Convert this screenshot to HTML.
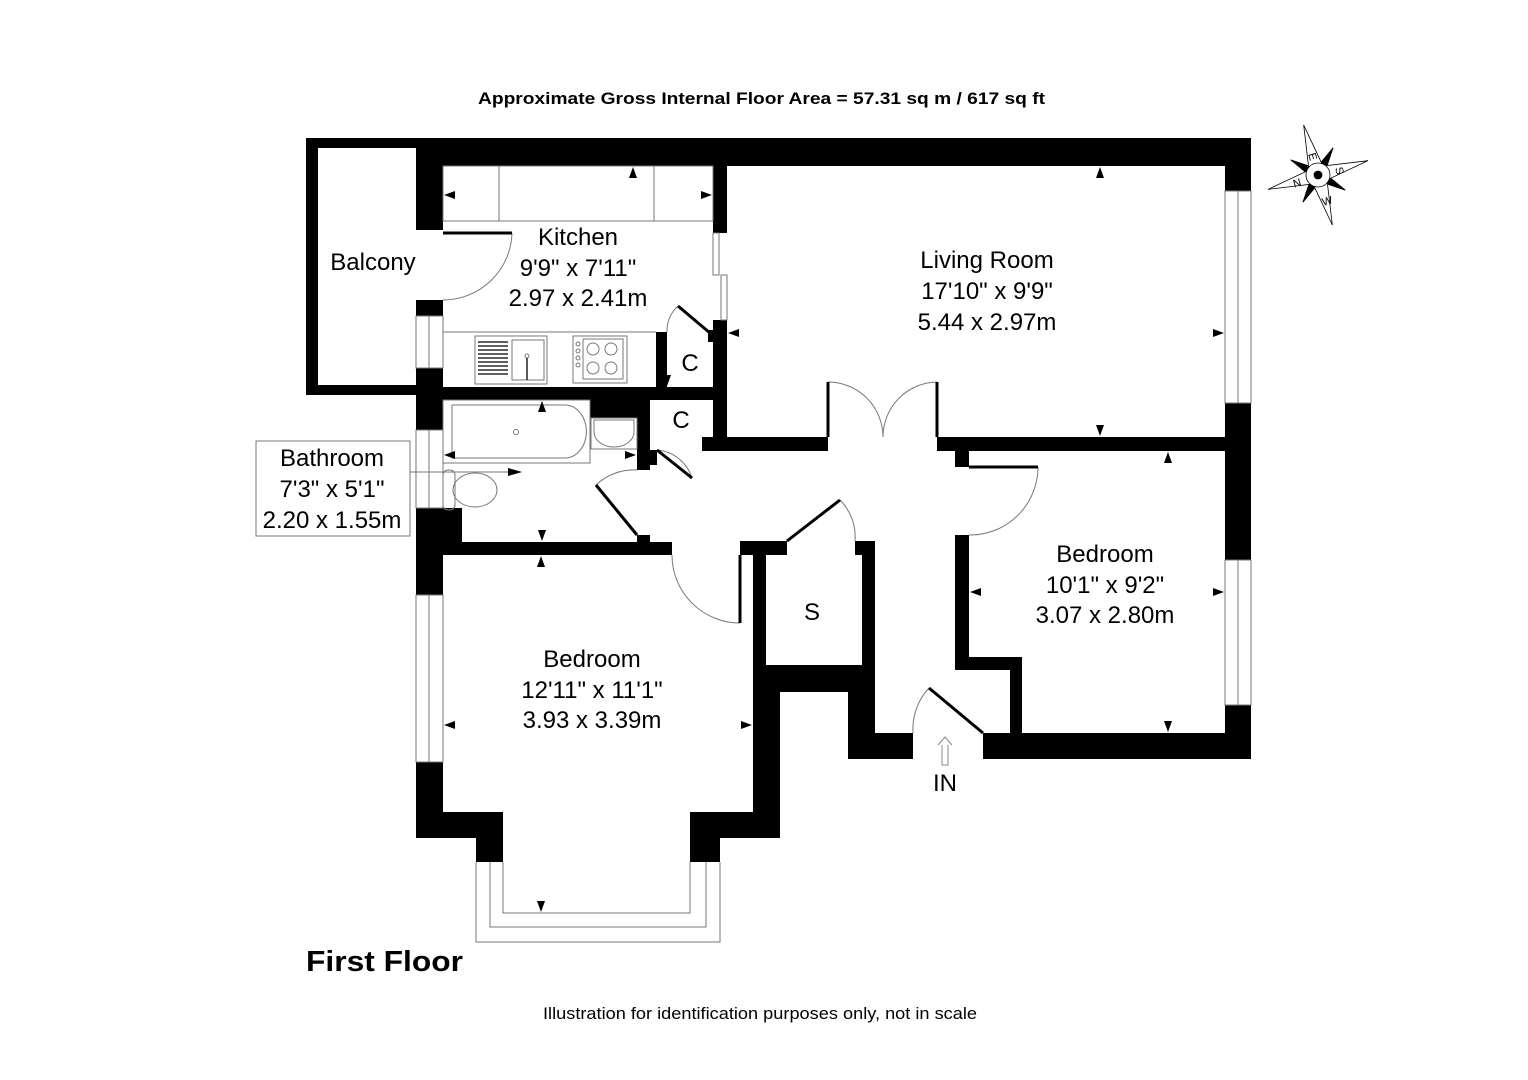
<!DOCTYPE html>
<html><head><meta charset="utf-8"><style>
html,body{margin:0;padding:0;background:#fff;}
svg{display:block;}
text{font-family:"Liberation Sans",Arial,sans-serif;fill:#000;}
</style></head><body>
<svg width="1528" height="1080" viewBox="0 0 1528 1080" xmlns="http://www.w3.org/2000/svg">
<rect width="1528" height="1080" fill="#fff"/>
<text x="478" y="104" font-size="17" font-weight="bold" textLength="567" lengthAdjust="spacingAndGlyphs">Approximate Gross Internal Floor Area =  57.31 sq m / 617 sq ft</text>

<g fill="#000">
<rect x="306" y="138" width="945" height="10"/>
<rect x="306" y="138" width="12" height="257"/>
<rect x="306" y="385" width="137" height="10"/>
<rect x="416" y="138" width="835" height="28"/>
<rect x="416" y="148" width="27" height="82"/>
<rect x="416" y="300" width="27" height="16"/>
<rect x="416" y="368" width="27" height="62"/>
<rect x="416" y="387" width="311" height="13"/>
<rect x="713" y="166" width="14" height="67"/>
<rect x="713" y="320" width="14" height="131"/>
<rect x="708" y="330" width="6" height="12"/>
<rect x="656" y="332" width="11" height="55"/>
<rect x="1225" y="138" width="26" height="53"/>
<rect x="1225" y="403" width="26" height="157"/>
<rect x="1225" y="705" width="26" height="54"/>
<rect x="702" y="437" width="126" height="14"/>
<rect x="937" y="437" width="288" height="14"/>
<rect x="955" y="451" width="14" height="16"/>
<rect x="955" y="535" width="14" height="135"/>
<rect x="955" y="657" width="67" height="13"/>
<rect x="1010" y="657" width="12" height="76"/>
<rect x="983" y="733" width="268" height="26"/>
<rect x="590" y="395" width="50" height="23"/>
<rect x="637" y="400" width="13" height="70"/>
<rect x="650" y="450" width="7" height="15"/>
<rect x="416" y="508" width="46" height="35"/>
<rect x="416" y="508" width="27" height="87"/>
<rect x="416" y="762" width="27" height="76"/>
<rect x="416" y="542" width="221" height="13"/>
<rect x="637" y="535" width="13" height="7"/>
<rect x="637" y="542" width="35" height="13"/>
<rect x="416" y="812" width="87" height="26"/>
<rect x="476" y="812" width="27" height="50"/>
<rect x="690" y="812" width="90" height="26"/>
<rect x="690" y="812" width="30" height="50"/>
<rect x="753" y="541" width="13" height="124"/>
<rect x="740" y="541" width="47" height="14"/>
<rect x="753" y="665" width="27" height="173"/>
<rect x="753" y="665" width="122" height="27"/>
<rect x="855" y="541" width="20" height="14"/>
<rect x="862" y="541" width="13" height="124"/>
<rect x="848" y="665" width="27" height="94"/>
<rect x="848" y="733" width="65" height="26"/>
</g>

<g fill="none" stroke="#777" stroke-width="1">
<rect x="416" y="316" width="27" height="52"/><line x1="429" y1="316" x2="429" y2="368"/>
<rect x="416" y="430" width="27" height="78"/><line x1="429" y1="430" x2="429" y2="508"/>
<rect x="416" y="595" width="27" height="167"/><line x1="429" y1="595" x2="429" y2="762"/>
<rect x="1225" y="191" width="26" height="212"/><line x1="1238" y1="191" x2="1238" y2="403"/>
<rect x="1225" y="560" width="26" height="145"/><line x1="1238" y1="560" x2="1238" y2="705"/>
<rect x="713" y="233" width="6" height="42"/><rect x="721" y="275" width="6" height="45"/>
<polyline points="476,862 476,942 720,942 720,862"/>
<polyline points="490,862 490,927 706,927 706,862"/>
<polyline points="503,862 503,913 690,913 690,862"/>
<rect x="443" y="166" width="270" height="55"/>
<line x1="499" y1="166" x2="499" y2="221"/><line x1="654" y1="166" x2="654" y2="221"/>
<line x1="443" y1="332" x2="656" y2="332"/>
<rect x="475" y="336" width="72" height="48"/>
<rect x="512" y="340" width="32" height="40"/>
<rect x="573" y="336" width="54" height="47"/>
<rect x="583" y="339" width="40" height="40"/>
<circle cx="593" cy="349" r="6"/><circle cx="611" cy="349" r="6"/>
<circle cx="593" cy="368" r="6"/><circle cx="611" cy="368" r="6"/>
<circle cx="578" cy="344" r="2"/><circle cx="578" cy="351" r="2"/><circle cx="578" cy="358" r="2"/><circle cx="578" cy="365" r="2"/>
<circle cx="527" cy="356" r="2"/>
<rect x="443" y="400" width="147" height="63"/>
<path d="M452,405 H565 A21,26 0 0 1 565,458 H452 Z"/>
<circle cx="516" cy="432" r="2.5"/>
<rect x="591" y="418" width="46" height="31"/>
<path d="M594,420 H634 V432 A20,15 0 0 1 594,432 Z"/>
<rect x="443" y="470" width="12" height="40" rx="5"/>
<ellipse cx="475" cy="490" rx="22" ry="17"/>
<rect x="256" y="441" width="154" height="95"/>
<line x1="410" y1="472" x2="510" y2="472"/>
<path d="M512,233 A69,69 0 0 1 443,300"/>
<path d="M678,306 A33,33 0 0 0 667,332"/>
<path d="M657,450 A40,40 0 0 1 692,478"/>
<path d="M596,485 A55,55 0 0 1 637,470"/>
<path d="M672,555 A68,68 0 0 0 740,623"/>
<path d="M828,382 A55,55 0 0 1 883,437"/>
<path d="M937,382 A55,55 0 0 0 883,437"/>
<path d="M1038,467 A68,68 0 0 1 969,535"/>
<path d="M840,500 A52,52 0 0 1 855,541"/>
<path d="M929,688 A60,60 0 0 0 913,733"/>
<path d="M938,745 L945,737 L952,745 M942,745 V765 H948 V745" stroke="#888"/>
</g>
<g stroke="#000" stroke-width="1.3" fill="none">
<line x1="478" y1="342" x2="508" y2="342"/><line x1="478" y1="346" x2="508" y2="346"/><line x1="478" y1="350" x2="508" y2="350"/><line x1="478" y1="354" x2="508" y2="354"/><line x1="478" y1="358" x2="508" y2="358"/><line x1="478" y1="362" x2="508" y2="362"/><line x1="478" y1="366" x2="508" y2="366"/><line x1="478" y1="370" x2="508" y2="370"/><line x1="478" y1="374" x2="508" y2="374"/>
<line x1="527" y1="358" x2="527" y2="380"/>
</g>
<g stroke="#000" stroke-width="3" fill="none">
<line x1="443" y1="233" x2="512" y2="233"/>
<line x1="678" y1="306" x2="710" y2="333"/>
<line x1="657" y1="450" x2="692" y2="478"/>
<line x1="596" y1="485" x2="637" y2="535"/>
<line x1="740" y1="555" x2="740" y2="623"/>
<line x1="828" y1="382" x2="828" y2="437"/>
<line x1="937" y1="382" x2="937" y2="437"/>
<line x1="969" y1="467" x2="1038" y2="467"/>
<line x1="787" y1="541" x2="840" y2="500"/>
<line x1="929" y1="688" x2="983" y2="733"/>
</g>
<g fill="#000">
<path d="M633,167 l-4,11 h8z"/><path d="M444,195 l11,-4 v8z"/><path d="M712,195 l-11,-4 v8z"/>
<path d="M667,386 l-4,-11 h8z"/>
<path d="M1100,167 l-4,11 h8z"/><path d="M1100,436 l-4,-11 h8z"/><path d="M728,333 l11,-4 v8z"/><path d="M1224,333 l-11,-4 v8z"/>
<path d="M542,401 l-4,11 h8z"/><path d="M542,541 l-4,-11 h8z"/><path d="M444,455 l11,-4 v8z"/><path d="M636,455 l-11,-4 v8z"/><path d="M522,472 l-14,-4 v8z"/>
<path d="M1168,452 l-4,11 h8z"/><path d="M1168,732 l-4,-11 h8z"/><path d="M970,592 l11,-4 v8z"/><path d="M1224,592 l-11,-4 v8z"/>
<path d="M541,556 l-4,11 h8z"/><path d="M541,912 l-4,-11 h8z"/><path d="M444,725 l11,-4 v8z"/><path d="M752,725 l-11,-4 v8z"/>
</g>
<g transform="translate(1318,175)" stroke="#000" stroke-width="0.8">
<g transform="rotate(-16)">
<polygon points="0,0 -22,-22 -9,-3" fill="#000"/><polygon points="0,0 -22,-22 -3,-9" fill="#000"/>
<polygon points="0,0 22,-22 9,-3" fill="#000"/><polygon points="0,0 22,-22 3,-9" fill="#000"/>
<polygon points="0,0 22,22 9,3" fill="#000"/><polygon points="0,0 22,22 3,9" fill="#000"/>
<polygon points="0,0 -22,22 -9,3" fill="#000"/><polygon points="0,0 -22,22 -3,9" fill="#000"/>
</g>
<polygon points="0,-52 -7,-9 7,-9" fill="#fff" transform="rotate(-16)"/>
<polygon points="0,-52 -7,-9 7,-9" fill="#fff" transform="rotate(74)"/>
<polygon points="0,-52 -7,-9 7,-9" fill="#fff" transform="rotate(164)"/>
<polygon points="0,-52 -7,-9 7,-9" fill="#fff" transform="rotate(254)"/>
<circle r="12" fill="#fff"/><circle r="4" fill="#000"/>
<text x="-6" y="-18" font-size="11" stroke="none" transform="rotate(74,-6,-22)">E</text>
<text x="-25" y="12" font-size="11" stroke="none" transform="rotate(-16,-22,8)">N</text>
<text x="18" y="0" font-size="11" stroke="none" transform="rotate(74,22,-4)">S</text>
<text x="4" y="30" font-size="11" stroke="none" transform="rotate(-16,8,26)">W</text>
</g>

<g font-size="24" text-anchor="middle">
<text x="373" y="270">Balcony</text>
<text x="578" y="245">Kitchen</text>
<text x="578" y="276">9'9" x 7'11"</text>
<text x="578" y="306">2.97 x 2.41m</text>
<text x="987" y="268">Living Room</text>
<text x="987" y="299">17'10" x 9'9"</text>
<text x="987" y="330">5.44 x 2.97m</text>
<text x="690" y="371">C</text>
<text x="681" y="428">C</text>
<text x="332" y="466">Bathroom</text>
<text x="332" y="497">7'3" x 5'1"</text>
<text x="332" y="528">2.20 x 1.55m</text>
<text x="1105" y="562">Bedroom</text>
<text x="1105" y="593">10'1" x 9'2"</text>
<text x="1105" y="623">3.07 x 2.80m</text>
<text x="812" y="620">S</text>
<text x="592" y="667">Bedroom</text>
<text x="592" y="698">12'11" x 11'1"</text>
<text x="592" y="728">3.93 x 3.39m</text>
<text x="945" y="791">IN</text>
</g>
<text x="306" y="971" font-size="29" font-weight="bold" textLength="157" lengthAdjust="spacingAndGlyphs">First Floor</text>
<text x="543" y="1019" font-size="17" textLength="434" lengthAdjust="spacingAndGlyphs">Illustration for identification purposes only, not in scale</text>
</svg>
</body></html>
